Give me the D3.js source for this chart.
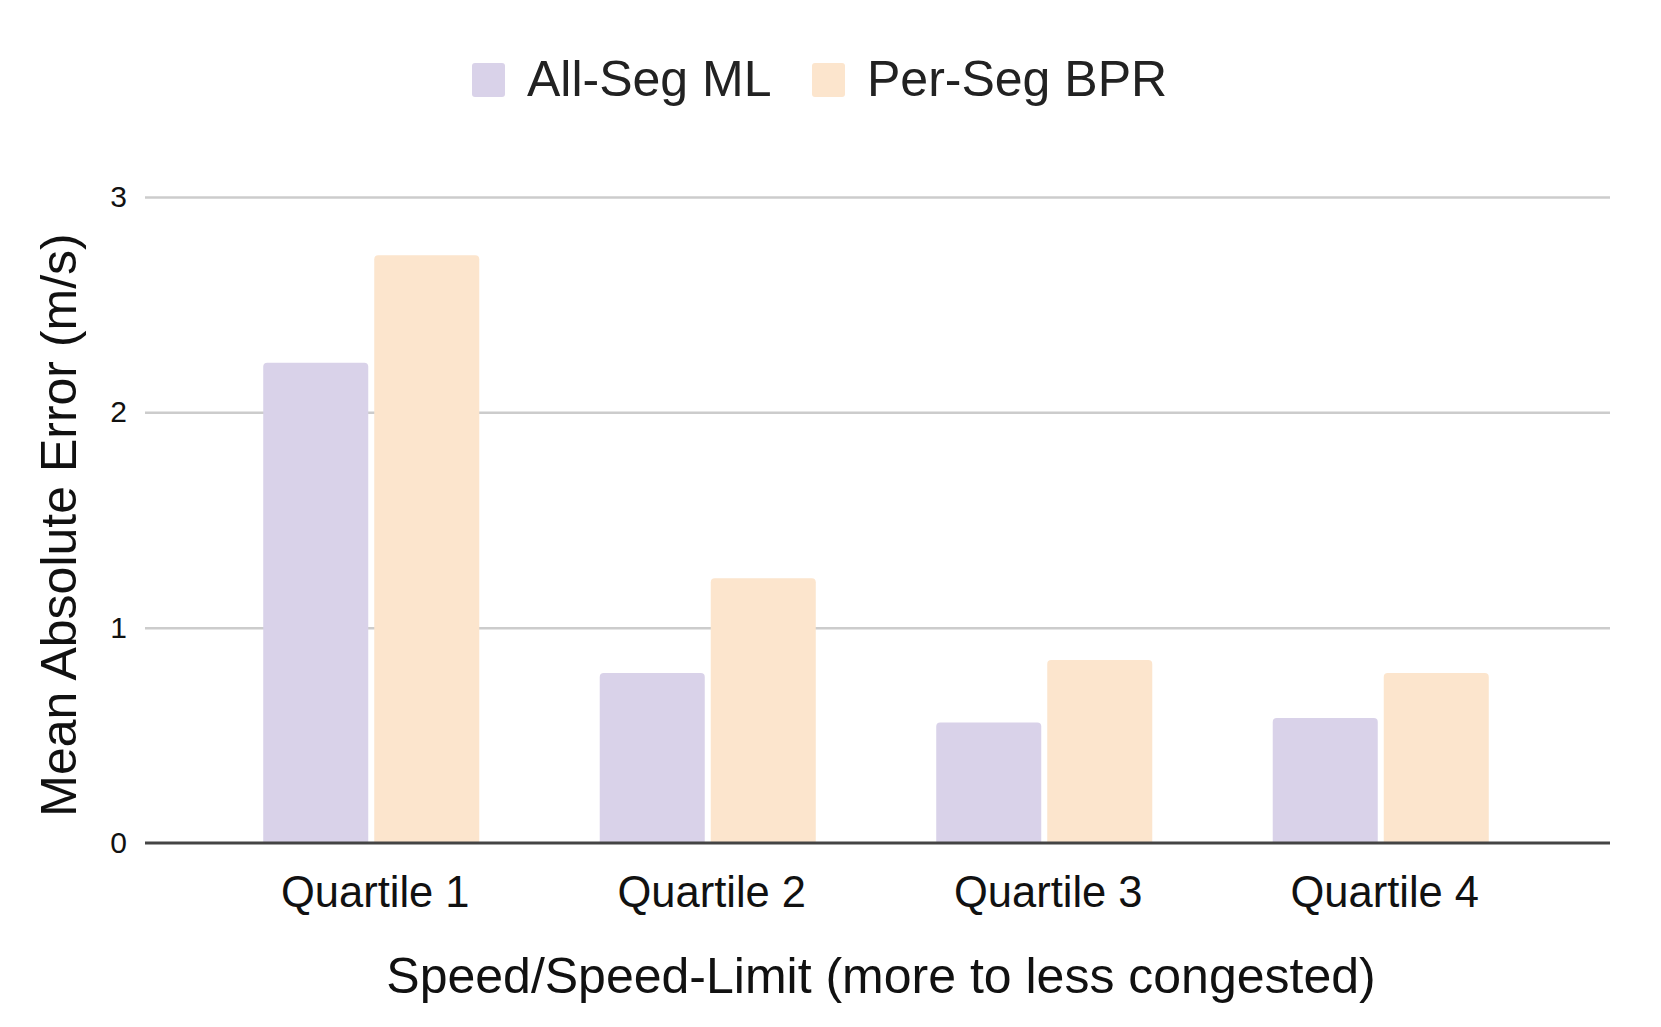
<!DOCTYPE html>
<html>
<head>
<meta charset="utf-8">
<script src="https://cdn.jsdelivr.net/npm/d3@7"></script>
<style>
  body { margin: 0; background: #fff; }
  text { font-family: "Liberation Sans", Arial, sans-serif; }
</style>
</head>
<body>
<div class="chart"></div>
<script>
const categories = ["Quartile 1", "Quartile 2", "Quartile 3", "Quartile 4"];
const seriesNames = ["All-Seg ML", "Per-Seg BPR"];
const allSegML = [2.23, 0.79, 0.56, 0.58];
const perSegBPR = [2.73, 1.23, 0.85, 0.79];
const yTicks = [0, 1, 2, 3];
const colors = ["#d9d2e9", "#fce5cd"];

const W = 1661, H = 1027;
const plotLeft = 145, plotRight = 1610, plotTop = 197, plotBottom = 843;

const data = categories.map((c, i) => ({cat: c, values: [allSegML[i], perSegBPR[i]]}));

const svg = d3.select(".chart").append("svg")
    .attr("width", W)
    .attr("height", H);

const y = d3.scaleLinear().domain([0, 3]).range([plotBottom, plotTop]);

const x0 = d3.scaleBand()
    .domain(categories)
    .range([203, 1549])
    .paddingInner(0.358)
    .paddingOuter(0.179);

const x1 = d3.scaleBand()
    .domain(seriesNames)
    .range([0, x0.bandwidth()])
    .paddingInner(0.054);

// gridlines + y labels
svg.append("g")
    .attr("class", "axis y-axis")
    .attr("transform", `translate(${plotLeft},0)`)
    .call(d3.axisLeft(y).tickValues(yTicks).tickFormat(d3.format("d"))
        .tickSize(-(plotRight - plotLeft)).tickPadding(18))
    .call(g => g.select(".domain").remove())
    .call(g => g.selectAll(".tick line").attr("stroke", "#cccccc").attr("stroke-width", 2.5))
    .call(g => g.selectAll(".tick text").attr("fill", "#111").style("font-size", "30px"));

// bars
const groups = svg.append("g").selectAll("g")
    .data(data)
    .enter().append("g")
    .attr("transform", d => `translate(${x0(d.cat)},0)`);

groups.selectAll("rect")
    .data(d => d.values.map((v, j) => ({name: seriesNames[j], value: v, j: j})))
    .enter().append("rect")
    .attr("x", d => x1(d.name))
    .attr("y", d => y(d.value))
    .attr("width", x1.bandwidth())
    .attr("height", d => y(0) - y(d.value) + 4)
    .attr("rx", 4)
    .attr("fill", d => colors[d.j]);

// white cover below baseline so bottom corners stay square under the axis
svg.append("rect")
    .attr("x", plotLeft).attr("y", plotBottom + 1)
    .attr("width", plotRight - plotLeft).attr("height", 10)
    .attr("fill", "#fff");

// zero line
svg.append("line")
    .attr("x1", plotLeft).attr("x2", plotRight)
    .attr("y1", y(0)).attr("y2", y(0))
    .attr("stroke", "#444")
    .attr("stroke-width", 3);

// x labels
svg.append("g")
    .attr("class", "axis x-axis")
    .attr("transform", `translate(0,${plotBottom})`)
    .call(d3.axisBottom(x0).tickSize(0).tickPadding(33))
    .call(g => g.select(".domain").remove())
    .call(g => g.selectAll(".tick text").attr("dx", 4).attr("fill", "#111").style("font-size", "43.5px"));

// axis titles
svg.append("text")
    .attr("x", 881)
    .attr("y", 993)
    .attr("text-anchor", "middle")
    .attr("fill", "#111")
    .style("font-size", "50px")
    .text("Speed/Speed-Limit (more to less congested)");

svg.append("text")
    .attr("transform", "translate(76,525) rotate(-90)")
    .attr("text-anchor", "middle")
    .attr("fill", "#111")
    .style("font-size", "50px")
    .text("Mean Absolute Error (m/s)");

// legend
const legendX = [472, 812];
const legend = svg.append("g").selectAll("g")
    .data(seriesNames)
    .enter().append("g")
    .attr("transform", (d, i) => `translate(${legendX[i]},63)`);

legend.append("rect")
    .attr("width", 33).attr("height", 34)
    .attr("rx", 3)
    .attr("fill", (d, i) => colors[i]);

legend.append("text")
    .attr("x", 55)
    .attr("y", 33)
    .attr("fill", "#222")
    .style("font-size", "50px")
    .text(d => d);
</script>
</body>
</html>
